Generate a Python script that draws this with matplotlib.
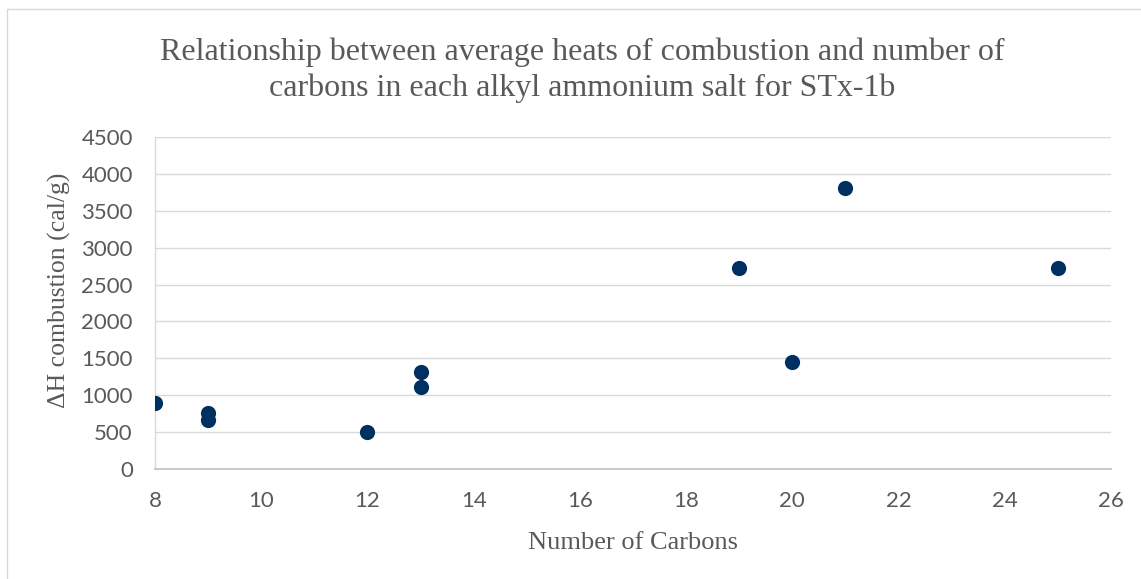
import matplotlib
matplotlib.use("Agg")
import matplotlib.pyplot as plt
from matplotlib.patches import Rectangle

carbons = [8, 9, 9, 12, 13, 13, 19, 20, 21, 25]
heat = [900, 765, 660, 505, 1315, 1110, 2730, 1450, 3815, 2730]
xticks = [8, 10, 12, 14, 16, 18, 20, 22, 24, 26]
yticks = [0, 500, 1000, 1500, 2000, 2500, 3000, 3500, 4000, 4500]
title_lines = ["Relationship between average heats of combustion and number of",
               "carbons in each alkyl ammonium salt for STx-1b"]

W, H = 1141, 579
fig = plt.figure(figsize=(W / 100, H / 100), dpi=100)
ax = fig.add_axes([155 / W, 1 - 469 / H, (1111 - 155) / W, (469 - 137) / H])

serif = ["Liberation Serif", "DejaVu Serif"]
sans = ["Lato", "DejaVu Sans"]
gray = "#595959"

ax.scatter(carbons, heat, s=120, color="#002F62", zorder=3, linewidths=0)
ax.set_xlim(8, 26)
ax.set_ylim(0, 4500)
ax.set_xticks(xticks)
ax.set_yticks(yticks)
ax.yaxis.grid(True, color="#D9D9D9", linewidth=1.0)
ax.set_axisbelow(True)
for s in ["top", "right"]:
    ax.spines[s].set_visible(False)
ax.spines["left"].set_color("#D9D9D9")
ax.spines["bottom"].set_color("#BFBFBF")
ax.spines["left"].set_linewidth(1.0)
ax.spines["bottom"].set_linewidth(1.2)
ax.tick_params(axis="both", length=0, labelsize=16, labelcolor=gray)
ax.tick_params(axis="y", pad=16)
ax.tick_params(axis="x", pad=16)
for lab in ax.get_xticklabels() + ax.get_yticklabels():
    lab.set_family(sans)

ax.set_xlabel("Number of Carbons", family=serif, fontsize=19, color=gray)
ax.xaxis.set_label_coords(0.5, -63 / 332)
ax.set_ylabel("ΔH combustion (cal/g)", family=serif, fontsize=18.5, color=gray)
ax.yaxis.set_label_coords(-84 / 956, 0.539)

for line, base in zip(title_lines, [60, 96]):
    fig.text(582 / W, 1 - base / H, line, ha="center", va="baseline",
             family=serif, fontsize=23, color=gray)

fig.patches.append(Rectangle((7 / W, -0.1), 1.2, 1 - 9 / H + 0.1, transform=fig.transFigure,
                             fill=False, edgecolor="#D9D9D9", linewidth=1.0))

fig.savefig("out.png", dpi=100)
